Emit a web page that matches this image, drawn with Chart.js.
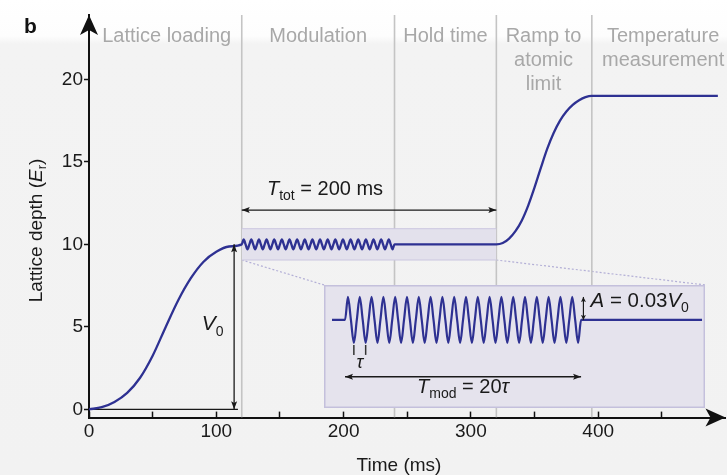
<!DOCTYPE html>
<html><head><meta charset="utf-8">
<script src="https://cdn.jsdelivr.net/npm/chart.js@4.4.1/dist/chart.umd.min.js"></script>
<style>
html,body{margin:0;padding:0;background:#f3f3f3;}
#wrap{position:relative;width:727px;height:475px;overflow:hidden;background:linear-gradient(#ffffff 0px,#fdfdfd 36px,#f3f3f3 44px,#f2f2f2 475px);}
#main{position:absolute;left:0;top:0;}
#inset{position:absolute;left:0;top:0;}
</style></head><body>
<div id="wrap"><canvas id="main" width="727" height="475"></canvas><canvas id="inset" width="10" height="10"></canvas></div>
<script>
// ---------- data ----------
const loadTimes = [0,10,20,30,40,50,60,70,80,90,100,110,120];
const loadDepth = [0,0.13,0.45,1.0,1.9,3.25,4.95,6.6,7.95,8.95,9.55,9.87,10];

const modTimes = [120,121.5,123,124.5,126,127.5,129,130.5,132,133.5,135,136.5,138,139.5,141,142.5,144,145.5,147,148.5,150,151.5,153,154.5,156,157.5,159,160.5,162,163.5,165,166.5,168,169.5,171,172.5,174,175.5,177,178.5,180,181.5,183,184.5,186,187.5,189,190.5,192,193.5,195,196.5,198,199.5,201,202.5,204,205.5,207,208.5,210,211.5,213,214.5,216,217.5,219,220.5,222,223.5,225,226.5,228,229.5,231,232.5,234,235.5,237,238.5,240];
const modDepth = [10,10.3,10,9.7,10,10.3,10,9.7,10,10.3,10,9.7,10,10.3,10,9.7,10,10.3,10,9.7,10,10.3,10,9.7,10,10.3,10,9.7,10,10.3,10,9.7,10,10.3,10,9.7,10,10.3,10,9.7,10,10.3,10,9.7,10,10.3,10,9.7,10,10.3,10,9.7,10,10.3,10,9.7,10,10.3,10,9.7,10,10.3,10,9.7,10,10.3,10,9.7,10,10.3,10,9.7,10,10.3,10,9.7,10,10.3,10,9.7,10];

const holdTimes = [240,320];
const holdDepth = [10,10];

const rampTimes = [320,325,330,335,340,345,350,355,360,365,370,375,380,385,390,395,494];
const rampDepth = [10,10.08,10.35,10.8,11.45,12.35,13.45,14.65,15.8,16.75,17.5,18.05,18.45,18.73,18.92,19,19];

const phaseBounds = [120,240,320,395];
const phaseLabels = [["Lattice loading"],["Modulation"],["Hold time"],["Ramp to","atomic","limit"],["Temperature","measurement"]];
const phaseCentres = [61,180,280,357,451];

const xTicks = [0,50,100,150,200,250,300,350,400,450];
const xTickLabels = ['0','','100','','200','','300','','400',''];
const yTicks = [0,5,10,15,20];

const zoomBoxT = [120,320];
const zoomBoxV = [9.05,10.95];
const insetT = [184.6,483.9];
const insetV = [0.08,7.54];
const totT = [120,320];
const totV = 12.08;
const v0T = 114;
const v0Range = [0,10];
const baseT = [0,117];

// inset (time in units of tau, depth in units of A)
const insetTau = [-1.1,0,0.25,0.5,0.75,1,1.25,1.5,1.75,2,2.25,2.5,2.75,3,3.25,3.5,3.75,4,4.25,4.5,4.75,5,5.25,5.5,5.75,6,6.25,6.5,6.75,7,7.25,7.5,7.75,8,8.25,8.5,8.75,9,9.25,9.5,9.75,10,10.25,10.5,10.75,11,11.25,11.5,11.75,12,12.25,12.5,12.75,13,13.25,13.5,13.75,14,14.25,14.5,14.75,15,15.25,15.5,15.75,16,16.25,16.5,16.75,17,17.25,17.5,17.75,18,18.25,18.5,18.75,19,19.25,19.5,19.75,20,30.25];
const insetAmp = [0,0,1,0,-1,0,1,0,-1,0,1,0,-1,0,1,0,-1,0,1,0,-1,0,1,0,-1,0,1,0,-1,0,1,0,-1,0,1,0,-1,0,1,0,-1,0,1,0,-1,0,1,0,-1,0,1,0,-1,0,1,0,-1,0,1,0,-1,0,1,0,-1,0,1,0,-1,0,1,0,-1,0,1,0,-1,0,1,0,-1,0,0];
const tauRange = [-1.78,30.5];
const ampRange = [-3.83,1.52];
const tauMarks = [0.75,1.75];
const tmodTau = [0,20];

// ---------- helpers ----------
const F = '"Liberation Sans", Arial, Helvetica, sans-serif';
const BLUE = '#2e3192';
function pts(t,v){ return t.map((x,i)=>({x:x,y:v[i]})); }
function runsWidth(ctx, parts){ let w=0; parts.forEach(p=>{ctx.font=p.font; w+=ctx.measureText(p.t).width;}); return w; }
function drawRuns(ctx, parts, x, y, align){
  const w = runsWidth(ctx, parts);
  let cx = align==='center' ? x - w/2 : (align==='right' ? x - w : x);
  ctx.textAlign='left'; ctx.textBaseline='alphabetic';
  parts.forEach(p=>{ ctx.font=p.font; ctx.fillText(p.t, cx, y + (p.dy||0)); cx += ctx.measureText(p.t).width; });
}
function head(ctx, x, y, ang, len, half){
  ctx.save(); ctx.translate(x,y); ctx.rotate(ang);
  ctx.beginPath(); ctx.moveTo(0,0); ctx.lineTo(-len,-half); ctx.lineTo(-len*0.8,0); ctx.lineTo(-len,half); ctx.closePath(); ctx.fill();
  ctx.restore();
}
function dblArrow(ctx, x1,y1,x2,y2,len,half,w,col){
  ctx.save(); ctx.strokeStyle=col; ctx.fillStyle=col; ctx.lineWidth=w;
  ctx.beginPath(); ctx.moveTo(x1,y1); ctx.lineTo(x2,y2); ctx.stroke();
  const a = Math.atan2(y2-y1,x2-x1);
  head(ctx,x2,y2,a,len,half); head(ctx,x1,y1,a+Math.PI,len,half);
  ctx.restore();
}

// ---------- main chart ----------
const curve = [];
[[loadTimes,loadDepth],[modTimes,modDepth],[holdTimes,holdDepth],[rampTimes,rampDepth]].forEach(([t,v])=>{
  t.forEach((x,i)=>{ if(curve.length && curve[curve.length-1].x===x) return; curve.push({x:x,y:v[i]}); });
});

const datasets = [
  {data:curve, borderColor:BLUE, borderWidth:2.3, pointRadius:0, cubicInterpolationMode:'monotone', fill:false, order:0},
  {data:pts(baseT,[0,0]), borderColor:'#1a1a1a', borderWidth:1.4, pointRadius:0, fill:false, order:1},
  {data:pts(zoomBoxT,[zoomBoxV[0],zoomBoxV[0]]), borderColor:'#cbc7e0', borderWidth:1, pointRadius:0, fill:false, order:2},
  {data:pts(zoomBoxT,[zoomBoxV[1],zoomBoxV[1]]), borderColor:'#cbc7e0', borderWidth:1, pointRadius:0, fill:'-1', backgroundColor:'#e3e1ec', order:2},
];
phaseBounds.forEach(b=>datasets.push({data:[{x:b,y:-0.5},{x:b,y:23.9}], borderColor:'#c4c4c4', borderWidth:1.6, pointRadius:0, fill:false, order:3}));
datasets.push({data:[{x:zoomBoxT[0],y:zoomBoxV[0]},{x:insetT[0],y:insetV[1]}], borderColor:'#b3afd6', borderWidth:1.2, borderDash:[2,2], pointRadius:0, fill:false, order:3});
datasets.push({data:[{x:zoomBoxT[1],y:zoomBoxV[0]},{x:insetT[1],y:insetV[1]}], borderColor:'#b3afd6', borderWidth:1.2, borderDash:[2,2], pointRadius:0, fill:false, order:3});

const mainDeco = {
  id:'mainDeco',
  afterDraw(chart){
    const ctx = chart.ctx, xs = chart.scales.x, ys = chart.scales.y, ca = chart.chartArea;
    ctx.save();
    ctx.fillStyle='#111';
    // axis arrow heads
    ctx.beginPath(); ctx.moveTo(ca.left, ca.top); ctx.lineTo(ca.left-9, ca.top+20); ctx.lineTo(ca.left, ca.top+15); ctx.lineTo(ca.left+9, ca.top+20); ctx.closePath(); ctx.fill();
    ctx.beginPath(); ctx.moveTo(ca.right, ca.bottom); ctx.lineTo(ca.right-20, ca.bottom-9); ctx.lineTo(ca.right-15, ca.bottom); ctx.lineTo(ca.right-20, ca.bottom+9); ctx.closePath(); ctx.fill();
    // panel letter
    ctx.font='bold 21px '+F; ctx.textAlign='left'; ctx.textBaseline='alphabetic'; ctx.fillText('b', 24, 33);
    // phase labels
    ctx.fillStyle='#a8a8a8'; ctx.font='20px '+F; ctx.textAlign='center';
    phaseLabels.forEach((lines,i)=>{
      const x = xs.getPixelForValue(phaseCentres[i]);
      lines.forEach((s,j)=>ctx.fillText(s, x, ys.getPixelForValue(22.27)+j*24));
    });
    // axis titles
    ctx.fillStyle='#1a1a1a';
    ctx.font='19px '+F; ctx.textAlign='center'; ctx.fillText('Time (ms)', 399, 471);
    ctx.save(); ctx.translate(42, 230.5); ctx.rotate(-Math.PI/2);
    drawRuns(ctx, [{t:'Lattice depth (',font:'19px '+F},{t:'E',font:'italic 19px '+F},{t:'r',font:'13px '+F,dy:4},{t:')',font:'19px '+F}], 0, 0, 'center');
    ctx.restore();
    // T_tot arrow + label
    const ty = ys.getPixelForValue(totV);
    dblArrow(ctx, xs.getPixelForValue(totT[0]), ty, xs.getPixelForValue(totT[1]), ty, 8, 3, 1.3, '#1a1a1a');
    ctx.fillStyle='#1a1a1a';
    drawRuns(ctx, [{t:'T',font:'italic 20px '+F},{t:'tot',font:'14px '+F,dy:5},{t:' = 200 ms',font:'20px '+F}], xs.getPixelForValue(185.4), ys.getPixelForValue(13.0), 'center');
    // V0 arrow + label
    const vx = xs.getPixelForValue(v0T);
    dblArrow(ctx, vx, ys.getPixelForValue(v0Range[0]), vx, ys.getPixelForValue(v0Range[1]), 8, 3, 1.3, '#1a1a1a');
    drawRuns(ctx, [{t:'V',font:'italic 21px '+F},{t:'0',font:'14px '+F,dy:6}], xs.getPixelForValue(88.5), ys.getPixelForValue(4.81), 'left');
    ctx.restore();
  }
};

const mainChart = new Chart(document.getElementById('main'), {
  type:'line',
  data:{datasets:datasets},
  options:{
    responsive:false, animation:false, devicePixelRatio:1,
    layout:{padding:{left:0,right:1.5,top:15,bottom:0}},
    plugins:{legend:{display:false}, tooltip:{enabled:false}},
    scales:{
      x:{type:'linear', min:0, max:500, position:'bottom',
        afterBuildTicks:s=>{ s.ticks = xTicks.map(v=>({value:v})); },
        afterFit:s=>{ s.height = 57.4; },
        grid:{drawOnChartArea:false, drawTicks:true, tickLength:-6, tickWidth:1.5, tickColor:'#111'},
        border:{display:true, color:'#111', width:2},
        ticks:{font:{family:F,size:19}, color:'#1a1a1a', padding:9, maxRotation:0, autoSkip:false, callback:(v,i)=>xTickLabels[i]}
      },
      y:{type:'linear', min:-0.5, max:23.9, position:'left',
        afterBuildTicks:s=>{ s.ticks = yTicks.map(v=>({value:v})); },
        afterFit:s=>{ s.width = 89; },
        grid:{drawOnChartArea:false, drawTicks:true, tickLength:5, tickWidth:1.5, tickColor:'#111'},
        border:{display:true, color:'#111', width:2},
        ticks:{font:{family:F,size:19}, color:'#1a1a1a', padding:1, autoSkip:false}
      }
    }
  },
  plugins:[mainDeco]
});

// ---------- inset chart ----------
const xs0 = mainChart.scales.x, ys0 = mainChart.scales.y;
const iL = Math.round(xs0.getPixelForValue(insetT[0])), iR = Math.round(xs0.getPixelForValue(insetT[1]));
const iT = Math.round(ys0.getPixelForValue(insetV[1])), iB = Math.round(ys0.getPixelForValue(insetV[0]));
const ic = document.getElementById('inset');
ic.width = iR - iL; ic.height = iB - iT; ic.style.left = iL+'px'; ic.style.top = iT+'px';

const insetDeco = {
  id:'insetDeco',
  beforeDraw(chart){
    const ctx = chart.ctx;
    ctx.save(); ctx.fillStyle='#e5e3ed'; ctx.fillRect(0,0,chart.width,chart.height);
    ctx.strokeStyle='#c4c0dc'; ctx.lineWidth=1.5; ctx.strokeRect(0.75,0.75,chart.width-1.5,chart.height-1.5); ctx.restore();
  },
  afterDatasetsDraw(chart){
    const ctx = chart.ctx, xs = chart.scales.x, ys = chart.scales.y;
    ctx.save(); ctx.fillStyle='#1a1a1a'; ctx.strokeStyle='#333';
    // tau marks
    ctx.lineWidth=1.5;
    tauMarks.forEach(t=>{ const x=xs.getPixelForValue(t); ctx.beginPath(); ctx.moveTo(x, ys.getPixelForValue(-1.09)); ctx.lineTo(x, ys.getPixelForValue(-1.52)); ctx.stroke(); });
    drawRuns(ctx, [{t:'τ',font:'italic 18px '+F}], xs.getPixelForValue((tauMarks[0]+tauMarks[1])/2), ys.getPixelForValue(-2.09), 'center');
    // T_mod
    const my = ys.getPixelForValue(-2.47);
    dblArrow(ctx, xs.getPixelForValue(tmodTau[0]), my, xs.getPixelForValue(tmodTau[1]), my, 8, 3, 1.3, '#1a1a1a');
    drawRuns(ctx, [{t:'T',font:'italic 20px '+F},{t:'mod',font:'14px '+F,dy:5},{t:' = 20',font:'20px '+F},{t:'τ',font:'italic 20px '+F}], xs.getPixelForValue(10), ys.getPixelForValue(-3.17), 'center');
    // A arrow
    const ax = xs.getPixelForValue(20.2);
    dblArrow(ctx, ax, ys.getPixelForValue(0), ax, ys.getPixelForValue(1), 5, 2.5, 1.2, '#1a1a1a');
    drawRuns(ctx, [{t:'A',font:'italic 20.5px '+F},{t:' = 0.03',font:'20.5px '+F},{t:'V',font:'italic 20.5px '+F},{t:'0',font:'14px '+F,dy:5}], xs.getPixelForValue(20.8), ys.getPixelForValue(0.565), 'left');
    ctx.restore();
  }
};

new Chart(ic, {
  type:'line',
  data:{datasets:[{data:pts(insetTau,insetAmp), borderColor:BLUE, borderWidth:2.2, pointRadius:0, cubicInterpolationMode:'monotone', fill:false}]},
  options:{
    responsive:false, animation:false, devicePixelRatio:1,
    layout:{padding:0},
    plugins:{legend:{display:false}, tooltip:{enabled:false}},
    scales:{
      x:{type:'linear', display:false, min:tauRange[0], max:tauRange[1]},
      y:{type:'linear', display:false, min:ampRange[0], max:ampRange[1]}
    }
  },
  plugins:[insetDeco]
});
</script>
</body></html>
